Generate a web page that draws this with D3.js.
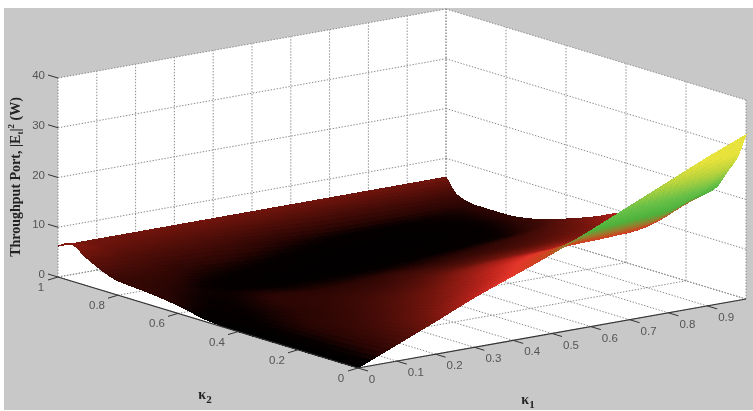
<!DOCTYPE html>
<html><head><meta charset="utf-8">
<script src="https://cdn.jsdelivr.net/npm/d3@7"></script>
<style>html,body{margin:0;padding:0;background:#fff}svg{display:block;filter:blur(.5px)}</style>
</head><body><div id="c"></div>
<script>
const kappa1 = [0,.1,.2,.3,.4,.5,.6,.7,.8,.9,.95,1];
const kappa2 = [0,.03,.06,.1,.15,.2,.3,.4,.5,.6,.7,.8,.9,.96,1];
const z00 = [0,0,0,0,0,0,0,0,.4,1.6,2.4,2.9,5.4,7.5,6.2];
const z10 = [3.3,3,2.7,2.5,2.3,2.1,1.9,1.4,1,.9,1.5,2.6,4.3,5.6,6.2];
const z20 = [6.6,6,5.5,4.9,4.2,3.6,2.7,2.3,2.2,1.4,.7,1.6,3.8,5.3,6.2];
const z30 = [10,9,8.2,7.2,6.2,5.4,4,2.9,2.1,1.1,.4,1.1,3.4,5,6.2];
const z40 = [13,11.9,10.9,9.7,8.5,7.4,5.2,3.5,2.3,1.1,.3,.7,2.6,4.7,6.2];
const z50 = [16,15,14,12.6,11.1,9.6,7,4.6,2.9,1.2,.3,.4,1.7,4.4,6.2];
const z60 = [19.3,17.4,15.8,14.2,12.4,10.8,7.9,5.2,3.1,1.4,.4,.3,1.1,4,6.2];
const z70 = [22.8,19,16.4,14.4,13,11.3,8.3,5.8,3.6,1.8,.5,.3,.8,3.7,6.2];
const z80 = [26.3,21,17.6,15,13.2,11.8,8.9,6.3,4,2.3,.7,.4,.8,3.5,6.2];
const z90 = [29.8,24,20.5,17.8,14.8,12.5,8.8,7,5,3.2,1,.7,1.1,3.3,6.2];
const z95 = [31.4,25.5,22.2,19.6,16.8,13.8,9.2,7.6,5.8,4,1.7,1.1,1.3,3.2,6.2];
const z100 = [33,27.8,24.7,20.6,18,15.6,11,10,7.4,5.1,3.2,2.3,2.3,3.2,6.2];
const zRows = [z00,z10,z20,z30,z40,z50,z60,z70,z80,z90,z95,z100];
const k1Ticks = [0,.1,.2,.3,.4,.5,.6,.7,.8,.9];
const k2Ticks = [0,.2,.4,.6,.8,1];
const zTicks = [0,10,20,30,40];
const colorStops = [0,.9,1.9,6,10,12.5,15.5,17,19,22,26,29];
const colorRange = ["#000000","#060000","#280503","#6e140c","#bc241c","#e4362a","#c8481f","#9a7a2c","#4db23c","#68c048","#bcd43c","#e8e23c"];

const W=753,H=411;
const sx1=d3.scaleLinear([0,1],[0,388]), sy1=d3.scaleLinear([0,1],[0,-69]);
const sx2=d3.scaleLinear([0,1],[0,-300]), sy2=d3.scaleLinear([0,1],[0,-91]);
const sz=d3.scaleLinear([0,40],[0,-199]);
const P=(a,b,z=0)=>[358+sx1(a)+sx2(b),368+sy1(a)+sy2(b)+sz(z)];
const color=d3.scaleLinear(colorStops,colorRange).clamp(true);

// monotone cubic read-through of the table, for a smooth sheet
function pchip(xs,ys,x){
  const n=xs.length; let i=Math.min(d3.bisectRight(xs,x)-1,n-2); if(i<0)i=0;
  const h=xs[i+1]-xs[i], d=j=>(ys[j+1]-ys[j])/(xs[j+1]-xs[j]);
  const m=j=>{ if(j===0)return d(0); if(j===n-1)return d(n-2);
    const a=d(j-1),b=d(j); if(a*b<=0)return 0; return 2*a*b/(a+b); };
  const t=(x-xs[i])/h,t2=t*t,t3=t2*t;
  return (2*t3-3*t2+1)*ys[i]+(t3-2*t2+t)*h*m(i)+(-2*t3+3*t2)*ys[i+1]+(t3-t2)*h*m(i+1);
}
const sub=(xs,per)=>{const o=[];for(let i=0;i<xs.length-1;i++)for(let j=0;j<per;j++)o.push(xs[i]+(xs[i+1]-xs[i])*j/per);o.push(xs[xs.length-1]);return o;};
const A=sub(kappa1,6), B=sub(kappa2,6);
const fine=A.map(a=>{const col=kappa2.map((_,j)=>pchip(kappa1,zRows.map(r=>r[j]),a));return B.map(b=>pchip(kappa2,col,b));});
const cells=[];
for(let i=0;i<A.length-1;i++)for(let j=0;j<B.length-1;j++){
  const a=(A[i]+A[i+1])/2,b=(B[j]+B[j+1])/2;
  cells.push({i,j,depth:.61*a+.79*b});
}
cells.sort((p,q)=>q.depth-p.depth);

const svg=d3.select("#c").append("svg").attr("width",W).attr("height",H).attr("viewBox",[0,0,W,H]);
svg.append("rect").attr("x",4).attr("y",8).attr("width",W-4).attr("height",402).attr("fill","#c8c8c8");
const poly=pts=>d3.line()(pts)+"Z";
svg.append("path").attr("fill","#fff").attr("d",poly([P(0,1,0),P(0,1,40),P(1,1,40),P(1,0,40),P(1,0,0),P(0,0,0)]));
const gridG=svg.append("g").attr("fill","none").attr("stroke","#8a8a8a").attr("stroke-width",1).attr("stroke-dasharray","1.4 1.6");
const L=(a,b)=>gridG.append("path").attr("d",d3.line()([a,b]));
k1Ticks.concat([1]).forEach(k=>{L(P(k,1,0),P(k,1,40));L(P(k,0,0),P(k,1,0));});
k2Ticks.forEach(k=>{L(P(1,k,0),P(1,k,40));L(P(0,k,0),P(1,k,0));});
zTicks.forEach(z=>{L(P(0,1,z),P(1,1,z));L(P(1,1,z),P(1,0,z));});

const cellZ=c=>(fine[c.i][c.j]+fine[c.i+1][c.j]+fine[c.i+1][c.j+1]+fine[c.i][c.j+1])/4;
svg.append("g").attr("shape-rendering","crispEdges").selectAll("path").data(cells).join("path")
  .attr("d",c=>poly([P(A[c.i],B[c.j],fine[c.i][c.j]),P(A[c.i+1],B[c.j],fine[c.i+1][c.j]),P(A[c.i+1],B[c.j+1],fine[c.i+1][c.j+1]),P(A[c.i],B[c.j+1],fine[c.i][c.j+1])]))
  .attr("fill",c=>color(cellZ(c)))
  .attr("stroke",c=>color(cellZ(c)))
  .attr("stroke-width",1);

const ax=svg.append("g").attr("fill","none").attr("stroke","#333").attr("stroke-width",1.2);
ax.append("path").attr("d",d3.line()([P(0,1,0),P(0,0,0),P(1,0,0)]));
const tick=(p,dx,dy)=>ax.append("path").attr("stroke-width",1).attr("d",d3.line()([p,[p[0]+dx,p[1]+dy]]));
k1Ticks.forEach(k=>tick(P(k,0,0),10,3));
k2Ticks.forEach(k=>tick(P(0,k,0),-10,3));
zTicks.forEach(z=>tick(P(0,1,z),-10,-3));

const tx=svg.append("g").attr("font-family","'Liberation Sans',Arial,sans-serif").attr("font-size",11.5).attr("fill","#555").attr("text-anchor","middle").attr("dominant-baseline","middle");
const fmt=d=>String(d);
k1Ticks.forEach(k=>{const p=P(k,0,0);tx.append("text").attr("x",p[0]+(k===0?14:19)).attr("y",p[1]+12).text(fmt(k));});
k2Ticks.forEach(k=>{const p=P(0,k,0);tx.append("text").attr("x",p[0]-(k===0||k===1?17:21)).attr("y",p[1]+11).text(fmt(k));});
zTicks.forEach(z=>{const p=P(0,1,z);tx.append("text").attr("x",45).attr("y",p[1]-2).attr("text-anchor","end").text(fmt(z));});

const serif="'Liberation Serif','Times New Roman',serif";
const yt=svg.append("text").attr("transform","translate(20,177) rotate(-90)").attr("text-anchor","middle")
  .attr("font-family",serif).attr("font-weight","bold").attr("font-size",14).attr("fill","#222");
yt.append("tspan").text("Throughput Port, |E");
yt.append("tspan").attr("font-size",9).attr("dy",3).text("t");
yt.append("tspan").attr("dy",-3).text("|");
yt.append("tspan").attr("font-size",9).attr("dy",-6).text("2");
yt.append("tspan").attr("dy",6).text(" (W)");
const kl=(x,y,s)=>{const t=svg.append("text").attr("x",x).attr("y",y).attr("font-family",serif).attr("font-weight","bold").attr("font-size",14).attr("fill","#222").attr("text-anchor","middle");
  t.append("tspan").text("κ");t.append("tspan").attr("font-size",11).attr("dy",4).text(s);};
kl(205,399,"2");kl(528,404,"1");
</script></body></html>
